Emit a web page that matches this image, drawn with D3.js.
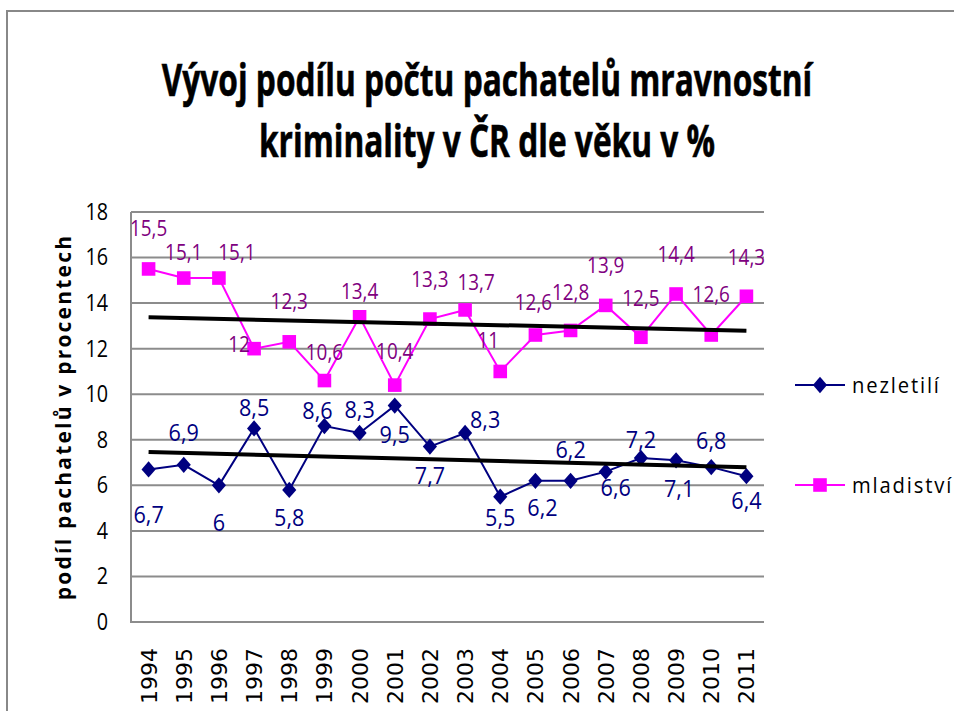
<!DOCTYPE html>
<html>
<head>
<meta charset="utf-8">
<script src="https://cdn.jsdelivr.net/npm/d3@7"></script>
<style>
  body { margin: 0; background: #fff; }
  svg { display: block; }
  text { font-family: "Open Sans", sans-serif; }
</style>
</head>
<body>
<svg id="chart" width="954" height="711"></svg>
<script>
// data
var years = ['1994','1995','1996','1997','1998','1999','2000','2001','2002',
             '2003','2004','2005','2006','2007','2008','2009','2010','2011'];
var nezletili = [6.7, 6.9, 6, 8.5, 5.8, 8.6, 8.3, 9.5, 7.7, 8.3, 5.5, 6.2, 6.2, 6.6, 7.2, 7.1, 6.8, 6.4];
var mladistvi = [15.5, 15.1, 15.1, 12, 12.3, 10.6, 13.4, 10.4, 13.3, 13.7, 11, 12.6, 12.8, 13.9, 12.5, 14.4, 12.6, 14.3];
var yTicks = [0, 2, 4, 6, 8, 10, 12, 14, 16, 18];
var titleLines = ['Vývoj podílu počtu pachatelů mravnostní', 'kriminality v ČR dle věku v %'];

// label nudges as placed in the original, [dx, dy] from the point
var nezNudge = [[0,45],[0,-32],[0,37],[0,-21],[0,28],[-7,-16],[0,-23],[0,29],[0,29],
                [20,-13],[0,21],[7,27],[0,-31],[10,16],[0,-18],[3,28],[0,-27],[0,24]];
var mlaNudge = [[0,-40],[0,-25],[18,-25],[-15,-4],[0,-40],[0,-28],[0,-25],[0,-33],[0,-39],
                [11,-27],[-12,-31],[-2,-32],[0,-38],[0,-40],[0,-39],[0,-39],[0,-40],[0,-39]];

var svg = d3.select('#chart');
var pLeft = 131, pRight = 764, pTop = 212, pBottom = 622;

var x = d3.scaleBand().domain(years).range([pLeft, pRight]);
var y = d3.scaleLinear().domain([0, 18]).range([pBottom, pTop]);
var cx = function(i){ return x(years[i]) + x.bandwidth()/2; };

// rhombus a bit squarer than d3's diamond
var rhombus = {
  draw: function(ctx, size){
    var w = Math.sqrt(size)/2, h = w*1.15;
    ctx.moveTo(0,-h); ctx.lineTo(w,0); ctx.lineTo(0,h); ctx.lineTo(-w,0); ctx.closePath();
  }
};

// outer border
svg.append('path')
   .attr('d', 'M7,720 L7,11 L960,11')
   .attr('fill', 'none')
   .attr('stroke', '#888')
   .attr('stroke-width', 2);

// title
svg.append('g').selectAll('text')
   .data(titleLines)
   .enter()
   .append('text')
   .attr('transform', (d,i)=>'translate(487,' + (96 + i*61) + ') scale(0.72,1)')
   .attr('text-anchor', 'middle')
   .style('font-size', '44px')
   .style('font-weight', 'bold')
   .attr('stroke', '#000')
   .attr('stroke-width', 0.6)
   .text(d=>d);

// grid
svg.append('g').selectAll('line')
   .data(yTicks.slice(1))
   .enter()
   .append('line')
   .attr('x1', pLeft).attr('x2', pRight)
   .attr('y1', d=>y(d)).attr('y2', d=>y(d))
   .attr('stroke', '#8c8c8c')
   .attr('stroke-width', 2);

svg.append('path')
   .attr('d', 'M' + pLeft + ',' + pTop + 'V' + pBottom + 'H' + pRight)
   .attr('fill', 'none')
   .attr('stroke', '#8c8c8c')
   .attr('stroke-width', 2);

// y axis labels
var yAxis = d3.axisLeft(y).tickValues(yTicks).tickSize(0);
svg.append('g')
   .attr('transform', 'translate(' + pLeft + ',0)')
   .call(yAxis)
   .call(g=>g.select('.domain').remove())
   .selectAll('text')
   .attr('x', 0)
   .attr('transform', 'translate(-23,0) scale(0.86,1)')
   .style('font-size', '23px')
   .style('font-family', '"Open Sans", sans-serif')
   .attr('fill', '#000');

svg.append('text')
   .attr('transform', 'translate(71,' + ((pTop + pBottom)/2) + ') rotate(-90)')
   .attr('text-anchor', 'middle')
   .style('font-size', '21px')
   .style('font-weight', 'bold')
   .style('letter-spacing', '2.2px')
   .text('podíl pachatelů v procentech');

// x axis labels
var xAxis = d3.axisBottom(x).tickSize(0).tickPadding(0);
svg.append('g')
   .attr('transform', 'translate(0,' + pBottom + ')')
   .call(xAxis)
   .call(g=>g.select('.domain').remove())
   .selectAll('text')
   .attr('transform', 'translate(0,26) rotate(-90)')
   .attr('x', 0).attr('y', 0).attr('dy', '0.36em')
   .attr('text-anchor', 'end')
   .style('font-family', '"DejaVu Sans", sans-serif')
   .style('font-size', '22px')
   .attr('fill', '#000');

// trend lines (least squares)
function trend(vals){
  var n = vals.length, mx = (n-1)/2, my = d3.mean(vals);
  var sxy = d3.sum(vals, (v,i)=>(i-mx)*(v-my));
  var sxx = d3.sum(vals, (v,i)=>(i-mx)*(i-mx));
  var b = sxy/sxx;
  return [0, n-1].map(i=>[cx(i), y(my + b*(i-mx))]);
}

// series
var series = [
  {name:'nezletilí', values:nezletili, nudge:nezNudge, line:'#000080', text:'#000080', sym:rhombus, size:200, fs:24, legendY:385},
  {name:'mladiství', values:mladistvi, nudge:mlaNudge, line:'#ff00ff', text:'#800080', sym:d3.symbolSquare, size:185, fs:21, legendY:485}
];

var line = d3.line().x((d,i)=>cx(i)).y(d=>y(d));

series.forEach(function(s){
  var g = svg.append('g');
  g.append('path')
   .attr('d', line(s.values))
   .attr('fill', 'none')
   .attr('stroke', s.line)
   .attr('stroke-width', 2);

  g.selectAll('.mark')
   .data(s.values)
   .enter()
   .append('path')
   .attr('class', 'mark')
   .attr('transform', (d,i)=>'translate(' + cx(i) + ',' + y(d) + ')')
   .attr('d', d3.symbol().type(s.sym).size(s.size))
   .attr('fill', s.line);

  g.selectAll('.lbl')
   .data(s.values)
   .enter()
   .append('text')
   .attr('class', 'lbl')
   .attr('transform', (d,i)=>'translate(' + (cx(i) + s.nudge[i][0]) + ',' + (y(d) + s.nudge[i][1]) + ') scale(0.9,1)')
   .attr('dy', '0.35em')
   .attr('text-anchor', 'middle')
   .style('font-size', s.fs + 'px')
   .attr('fill', s.text)
   .text(d=>String(d).replace('.', ','));

  g.append('path')
   .attr('d', d3.line()(trend(s.values)))
   .attr('stroke', '#000')
   .attr('stroke-width', 4);

  // legend
  var lg = svg.append('g').attr('transform', 'translate(795,' + s.legendY + ')');
  lg.append('line').attr('x1', 0).attr('x2', 50)
    .attr('stroke', s.line).attr('stroke-width', 2);
  lg.append('path').attr('transform', 'translate(25,0)')
    .attr('d', d3.symbol().type(s.sym).size(s.size)).attr('fill', s.line);
  lg.append('text')
    .attr('transform', 'translate(57,0) scale(0.92,1)')
    .attr('dy', '0.35em')
    .style('font-size', '22px')
    .style('letter-spacing', '2px')
    .text(s.name);
});
</script>
</body>
</html>
